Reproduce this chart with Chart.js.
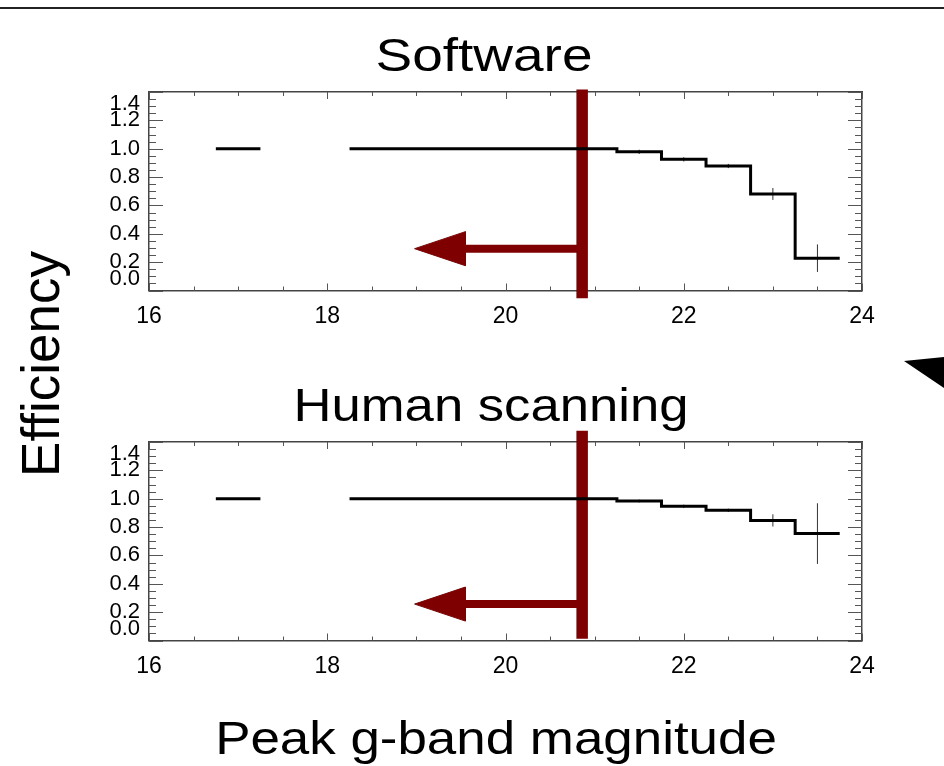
<!DOCTYPE html>
<html>
<head>
<meta charset="utf-8">
<script src="https://cdn.jsdelivr.net/npm/chart.js@4.4.1/dist/chart.umd.min.js"></script>
<style>
html,body{margin:0;padding:0;background:#fff;}
#page{position:relative;width:944px;height:766px;overflow:hidden;background:#fff;font-family:"Liberation Sans",Arial,Helvetica,sans-serif;color:#000;}
.cv{position:absolute;left:0;width:944px;height:350px;}
.lbl{position:absolute;white-space:nowrap;line-height:1;}
</style>
</head>
<body>
<div id="page">
  <div style="position:absolute;left:0;top:7px;width:944px;height:1.5px;background:#222"></div>
  <canvas id="c1" class="cv" style="top:0px" width="944" height="350"></canvas>
  <canvas id="c2" class="cv" style="top:350px" width="944" height="350"></canvas>
  <div class="lbl" id="t1" style="left:484px;top:31px;font-size:47px;transform:translateX(-50%) scaleX(1.17);">Software</div>
  <div class="lbl" id="t2" style="left:491px;top:381px;font-size:47px;transform:translateX(-50%) scaleX(1.12);">Human scanning</div>
  <div class="lbl" id="xt" style="left:496px;top:715px;font-size:46px;transform:translateX(-50%) scaleX(1.15);">Peak g-band magnitude</div>
  <div class="lbl" id="yt" style="left:40px;top:364px;font-size:53px;transform:translate(-50%,-50%) rotate(-90deg);">Efficiency</div>
  <svg style="position:absolute;left:0;top:0" width="944" height="766"><polygon points="904,361 944,357 944,388" fill="#000"/></svg>
</div>
<script>
// ---- data ----
const binCenters  = [17.0, 18.5, 19.0, 19.5, 20.0, 20.5, 21.0, 21.5, 22.0, 22.5, 23.0, 23.5];
const binWidth    = 0.5;
const softwareEff = [1.0, 1.0, 1.0, 1.0, 1.0, 1.0, 1.0, 0.978, 0.925, 0.878, 0.681, 0.228];
const softwareErr = [0, 0, 0, 0, 0, 0, 0, 0.015, 0.015, 0.015, 0.042, 0.097];
const humanEff    = [1.0, 1.0, 1.0, 1.0, 1.0, 1.0, 1.0, 0.984, 0.946, 0.918, 0.847, 0.754];
const humanErr    = [0, 0, 0, 0, 0, 0, 0, 0.010, 0.012, 0.012, 0.043, 0.214];
const xTicks      = [16, 18, 20, 22, 24];
const yTicks      = [0.0, 0.2, 0.4, 0.6, 0.8, 1.0, 1.2, 1.4];
const cutMag      = 20.86;            // vertical cut line (magnitude)
const arrowTipX   = 18.98;            // arrow tip magnitude
const arrowHeadX  = 19.55;            // arrow head base magnitude
const arrowHalf   = 0.12;             // arrow head half-height (efficiency units)
const softwareArrowY = 0.295;
const humanArrowY    = 0.257;
const softwareCutRange = [-0.054, 1.417];
const humanCutRange    = [0.012, 1.479];

const RED = '#7f0000';

function stepPoints(eff){
  const pts = [];
  for (let i = 0; i < binCenters.length; i++){
    const l = binCenters[i] - binWidth/2, r = binCenters[i] + binWidth/2;
    if (i > 0){
      const prevR = binCenters[i-1] + binWidth/2;
      if (l - prevR > 1e-6) pts.push({x:(l+prevR)/2, y:null});
    }
    pts.push({x:l, y:eff[i]}, {x:r, y:eff[i]});
  }
  return pts;
}
function errPoints(eff, err){
  const pts = [];
  for (let i = 0; i < binCenters.length; i++){
    if (err[i] > 0){
      pts.push({x:binCenters[i], y:eff[i]-err[i]}, {x:binCenters[i], y:eff[i]+err[i]}, {x:binCenters[i], y:null});
    }
  }
  return pts;
}

const boxTicks = {
  id:'boxTicks',
  beforeDatasetsDraw(chart){
    const {ctx, chartArea:a} = chart;
    const xs = chart.scales.x, ys = chart.scales.y;
    ctx.save();
    ctx.strokeStyle = '#555';
    ctx.lineWidth = 1;
    ctx.beginPath();
    for (let i = 0; i <= 16; i++){
      const v = 16 + i*0.5;
      const px = Math.round(xs.getPixelForValue(v)) + 0.5;
      const len = (i % 4 === 0) ? 7 : 4;
      ctx.moveTo(px, a.bottom); ctx.lineTo(px, a.bottom - len);
      ctx.moveTo(px, a.top); ctx.lineTo(px, a.top + len);
    }
    for (let i = 0; i <= 28; i++){
      const v = i*0.05;
      const py = Math.round(ys.getPixelForValue(v)) + 0.5;
      const len = (i % 4 === 0) ? 14 : 7;
      ctx.moveTo(a.left, py); ctx.lineTo(a.left + len, py);
      ctx.moveTo(a.right, py); ctx.lineTo(a.right - len, py);
    }
    ctx.stroke();
    ctx.restore();
  }
};

function makeChart(id, eff, err, arrowY, cutRange){
  const gridOpts = {display:true, drawOnChartArea:false, drawTicks:false, color:'rgba(0,0,0,0)'};
  const borderOpts = {display:true, color:'#444', width:1.5};
  return new Chart(document.getElementById(id), {
    type:'scatter',
    data:{datasets:[
      {data:stepPoints(eff), showLine:true, borderColor:'#000', borderWidth:3, pointRadius:0, spanGaps:false, borderJoinStyle:'miter'},
      {data:errPoints(eff, err), showLine:true, borderColor:'#333', borderWidth:1, pointRadius:0, spanGaps:false},
      {data:[{x:arrowHeadX-0.03, y:arrowY}, {x:cutMag, y:arrowY}], showLine:true, borderColor:RED, borderWidth:8, pointRadius:0},
      {data:[{x:arrowTipX, y:arrowY}, {x:arrowHeadX, y:arrowY+arrowHalf}, {x:arrowHeadX, y:arrowY-arrowHalf}, {x:arrowTipX, y:arrowY}],
        showLine:true, fill:'shape', backgroundColor:RED, borderColor:RED, borderWidth:1, pointRadius:0},
      {data:[{x:cutMag, y:cutRange[0]}, {x:cutMag, y:cutRange[1]}], showLine:true, borderColor:RED, borderWidth:11.5, pointRadius:0, clip:false, borderCapStyle:'butt'}
    ]},
    options:{
      responsive:false, animation:false, devicePixelRatio:1,
      layout:{padding:{left:89, right:82, top:92, bottom:9.5}},
      plugins:{legend:{display:false}, tooltip:{enabled:false}, title:{display:false}},
      scales:{
        x:{type:'linear', position:'bottom', min:16, max:24,
           afterBuildTicks:s=>{ s.ticks = xTicks.map(v=>({value:v})); },
           ticks:{font:{family:'Liberation Sans', size:23}, color:'#000', padding:12, maxRotation:0, autoSkip:false},
           grid:gridOpts, border:borderOpts, afterFit:s=>{ s.height = 50; }},
        x2:{type:'linear', position:'top', min:16, max:24, ticks:{display:false},
           grid:gridOpts, border:borderOpts, afterFit:s=>{ s.height = 0; }},
        y:{type:'linear', position:'left', min:0, max:1.4,
           afterBuildTicks:s=>{ s.ticks = yTicks.map(v=>({value:v})); },
           ticks:{font:{family:'Liberation Sans', size:22, lineHeight:1.05}, color:'#000', padding:9, autoSkip:false,
             callback:(v)=>{ const t = Number(v).toFixed(1);
               if (Math.abs(v-1.4) < 1e-6) return ['', t];
               if (Math.abs(v) < 1e-6) return [t, ''];
               return t; }},
           grid:gridOpts, border:borderOpts, afterFit:s=>{ s.width = 60; }},
        y2:{type:'linear', position:'right', min:0, max:1.4, ticks:{display:false},
           grid:gridOpts, border:borderOpts, afterFit:s=>{ s.width = 0; }}
      }
    },
    plugins:[boxTicks]
  });
}

makeChart('c1', softwareEff, softwareErr, softwareArrowY, softwareCutRange);
makeChart('c2', humanEff, humanErr, humanArrowY, humanCutRange);
</script>
</body>
</html>
